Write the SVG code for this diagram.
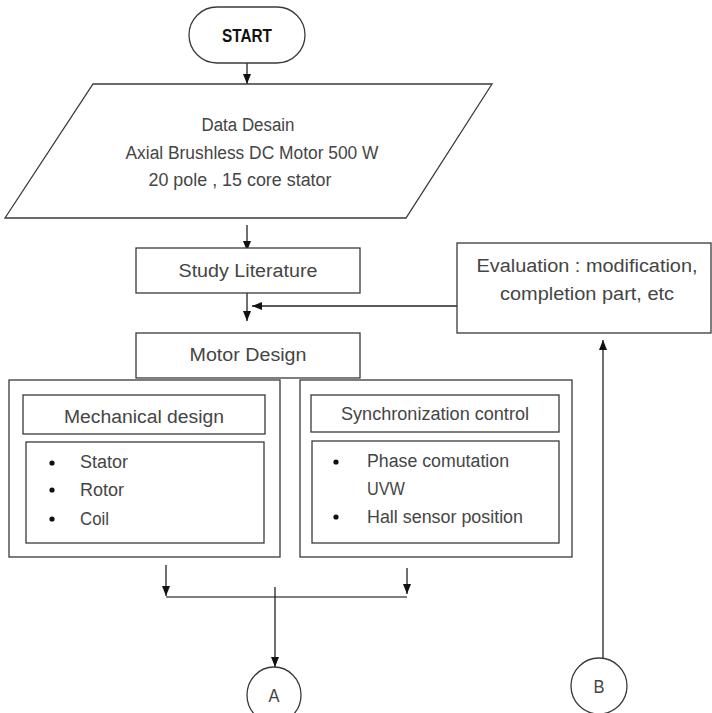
<svg xmlns="http://www.w3.org/2000/svg" width="712" height="713" viewBox="0 0 712 713">
<style>
.box{fill:#fff;stroke:#3a3a3a;stroke-width:1.3}
.ln{fill:none;stroke:#222;stroke-width:1.3}
.t{font-family:"Liberation Sans",Arial,sans-serif;fill:#454545;font-size:18px}
.tc{text-anchor:middle}
.b{font-weight:bold;fill:#111}
</style>
<defs>
<marker id="ah" markerUnits="userSpaceOnUse" markerWidth="10" markerHeight="10" viewBox="0 0 10 10" refX="10" refY="5" orient="auto">
<path d="M0,1 L10,5 L0,9 Z" fill="#111"/>
</marker>
</defs>
<rect width="712" height="713" fill="#fff"/>
<g id="connectors">
<line class="ln" x1="247" y1="63" x2="247" y2="84" marker-end="url(#ah)"/>
<line class="ln" x1="247" y1="225" x2="247" y2="251" marker-end="url(#ah)"/>
<line class="ln" x1="247" y1="293" x2="247" y2="321" marker-end="url(#ah)"/>
<line class="ln" x1="457" y1="306" x2="252" y2="306" marker-end="url(#ah)"/>
<line class="ln" x1="603" y1="658" x2="603" y2="340" marker-end="url(#ah)"/>
<line class="ln" x1="166" y1="565" x2="166" y2="596" marker-end="url(#ah)"/>
<line class="ln" x1="407" y1="568" x2="407" y2="594" marker-end="url(#ah)"/>
<line class="ln" x1="166" y1="597" x2="407" y2="597" style="stroke:#555"/>
<line class="ln" x1="275" y1="587" x2="275" y2="667" marker-end="url(#ah)"/>
</g>
<g id="start">
<rect class="box" x="189" y="7" width="116" height="56" rx="28" ry="28"/>
<text class="t tc b" x="247" y="42" font-size="17" textLength="50" lengthAdjust="spacingAndGlyphs">START</text>
</g>
<g id="data">
<polygon class="box" points="93,84 492,84 406,218 5,218"/>
<text class="t tc" x="248" y="131" textLength="93" lengthAdjust="spacingAndGlyphs">Data Desain</text>
<text class="t tc" x="252" y="159" textLength="253" lengthAdjust="spacingAndGlyphs">Axial Brushless DC Motor 500 W</text>
<text class="t tc" x="240" y="186" textLength="183" lengthAdjust="spacingAndGlyphs">20 pole , 15 core stator</text>
</g>
<g id="study">
<rect class="box" x="136" y="248" width="224" height="45"/>
<text class="t tc" x="248" y="277" textLength="139" lengthAdjust="spacingAndGlyphs">Study Literature</text>
</g>
<g id="evaluation">
<rect class="box" x="457" y="243" width="254" height="90"/>
<text class="t tc" x="587" y="272" textLength="221" lengthAdjust="spacingAndGlyphs">Evaluation : modification,</text>
<text class="t tc" x="587" y="300" textLength="174" lengthAdjust="spacingAndGlyphs">completion part, etc</text>
</g>
<g id="motor">
<rect class="box" x="136" y="333" width="224" height="45"/>
<text class="t tc" x="248" y="361" textLength="117" lengthAdjust="spacingAndGlyphs">Motor Design</text>
</g>
<g id="mechanical">
<rect class="box" x="9" y="380" width="271" height="177"/>
<rect class="box" x="23" y="395" width="242" height="39"/>
<text class="t tc" x="144" y="423" font-size="19" textLength="160" lengthAdjust="spacingAndGlyphs">Mechanical design</text>
<rect class="box" x="26" y="442" width="238" height="101"/>
<circle cx="52" cy="463" r="2.6" fill="#111"/>
<circle cx="52" cy="490" r="2.6" fill="#111"/>
<circle cx="52" cy="519" r="2.6" fill="#111"/>
<text class="t" x="80" y="468" textLength="48" lengthAdjust="spacingAndGlyphs">Stator</text>
<text class="t" x="80" y="496" textLength="44" lengthAdjust="spacingAndGlyphs">Rotor</text>
<text class="t" x="80" y="525" textLength="29" lengthAdjust="spacingAndGlyphs">Coil</text>
</g>
<g id="synchronization">
<rect class="box" x="300" y="380" width="272" height="177"/>
<rect class="box" x="311" y="395" width="248" height="37"/>
<text class="t tc" x="435" y="420" textLength="188" lengthAdjust="spacingAndGlyphs">Synchronization control</text>
<rect class="box" x="312" y="441" width="247" height="102"/>
<circle cx="336" cy="462" r="2.6" fill="#111"/>
<circle cx="336" cy="517" r="2.6" fill="#111"/>
<text class="t" x="367" y="467" textLength="142" lengthAdjust="spacingAndGlyphs">Phase comutation</text>
<text class="t" x="367" y="495" textLength="38" lengthAdjust="spacingAndGlyphs">UVW</text>
<text class="t" x="367" y="523" textLength="156" lengthAdjust="spacingAndGlyphs">Hall sensor position</text>
</g>
<g id="connector-a">
<ellipse class="box" cx="274" cy="695" rx="27" ry="28"/>
<text class="t tc" x="274" y="702" textLength="11" lengthAdjust="spacingAndGlyphs">A</text>
</g>
<g id="connector-b">
<ellipse class="box" cx="599" cy="686" rx="28" ry="28"/>
<text class="t tc" x="599" y="693" textLength="11" lengthAdjust="spacingAndGlyphs">B</text>
</g>
</svg>
